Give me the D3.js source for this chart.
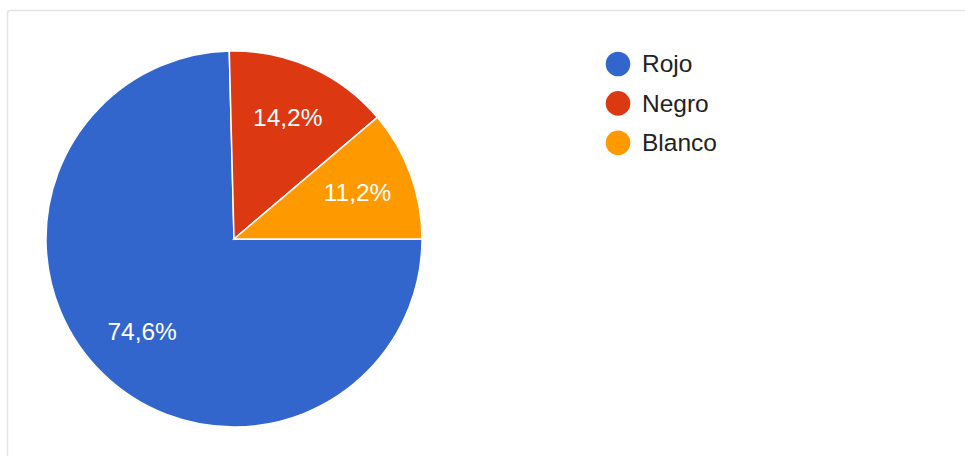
<!DOCTYPE html>
<html>
<head>
<meta charset="utf-8">
<script src="https://cdn.jsdelivr.net/npm/d3@7"></script>
<style>
  html, body { margin: 0; padding: 0; background: #fff; }
  svg { display: block; font-family: "Liberation Sans", Arial, sans-serif; }
</style>
</head>
<body>
<svg id="chart" width="965" height="456"></svg>
<script>
// Colour preferences
const categories = ["Rojo", "Negro", "Blanco"];
const values = [74.6, 14.2, 11.2];
const colors = ["#3366cc", "#dc3912", "#ff9900"];
const valueLabels = ["74,6%", "14,2%", "11,2%"];

const svg = d3.select("#chart");
const W = 965, H = 456;

// card outline
svg.append("rect")
  .attr("x", 7.5).attr("y", 10.5)
  .attr("width", W + 20).attr("height", H + 20)
  .attr("rx", 3)
  .attr("fill", "#fff")
  .attr("stroke", "#e3e3e3")
  .attr("stroke-width", 1.5);

const cx = 234, cy = 239, radius = 188;

const pie = d3.pie()
  .sort(null)
  .value(d => d)
  .startAngle(Math.PI / 2)
  .endAngle(Math.PI / 2 + 2 * Math.PI);

const arcs = pie(values);
const arc = d3.arc().innerRadius(0).outerRadius(radius);
const labelArc = d3.arc().innerRadius(radius * 0.7).outerRadius(radius * 0.7);

const g = svg.append("g").attr("transform", `translate(${cx},${cy})`);

g.selectAll("path.slice")
  .data(arcs)
  .join("path")
  .attr("class", "slice")
  .attr("d", arc)
  .attr("fill", (d, i) => colors[i])
  .attr("stroke", "#fff")
  .attr("stroke-width", 1.5);

g.selectAll("text.pct")
  .data(arcs)
  .join("text")
  .attr("class", "pct")
  .attr("transform", d => `translate(${labelArc.centroid(d)})`)
  .attr("text-anchor", "middle")
  .attr("dy", "0.28em")
  .attr("fill", "#fff")
  .attr("font-size", 24.5)
  .text((d, i) => valueLabels[i]);

// legend
const legend = svg.append("g").attr("transform", "translate(618,64)");
const item = legend.selectAll("g.item")
  .data(categories)
  .join("g")
  .attr("class", "item")
  .attr("transform", (d, i) => `translate(0,${i * 39.4})`);

item.append("circle")
  .attr("r", 12.3)
  .attr("fill", (d, i) => colors[i]);

item.append("text")
  .attr("x", 24)
  .attr("dy", "0.34em")
  .attr("font-size", 24.5)
  .attr("fill", "#222")
  .text(d => d);
</script>
</body>
</html>
